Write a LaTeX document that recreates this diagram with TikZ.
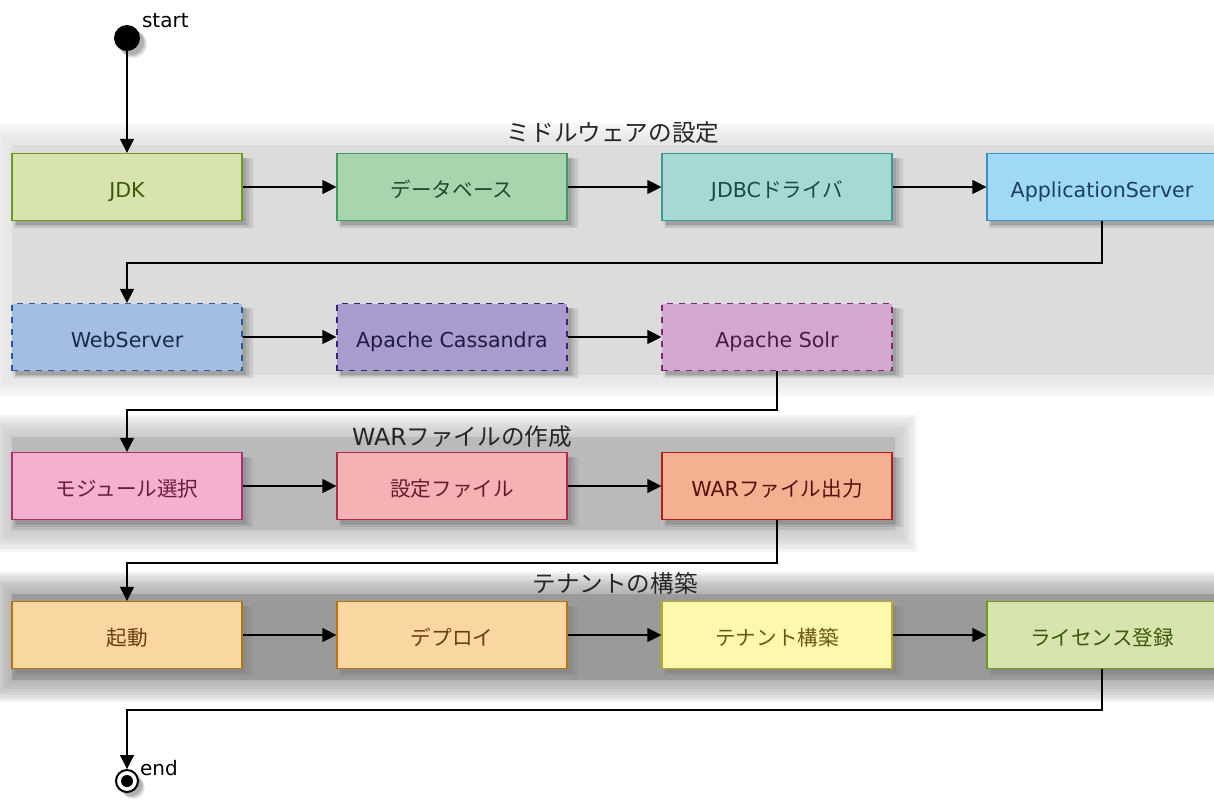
\documentclass[tikz,border=0pt]{standalone}
\usepackage{fontspec}
\setmainfont{DejaVu Sans}
\newfontfamily\jp{Noto Sans CJK JP}
\usetikzlibrary{arrows.meta}
\usetikzlibrary{shadows}
\usetikzlibrary{positioning}

\definecolor{grpA}{HTML}{DCDCDC}
\definecolor{grpB}{HTML}{BABABA}
\definecolor{grpC}{HTML}{9A9A9A}
% fill / border / text per box
\definecolor{jdkF}{HTML}{D7E4AD}  \definecolor{jdkD}{HTML}{6E9A1E}  \definecolor{jdkT}{HTML}{3A5A0A}
\definecolor{dbF}{HTML}{A9D5AE}   \definecolor{dbD}{HTML}{3F9A5B}   \definecolor{dbT}{HTML}{1E4A2A}
\definecolor{jdbcF}{HTML}{A6D9D3} \definecolor{jdbcD}{HTML}{3A9A92} \definecolor{jdbcT}{HTML}{1A4A46}
\definecolor{appF}{HTML}{A0D9F5}  \definecolor{appD}{HTML}{3A8FC2}  \definecolor{appT}{HTML}{1B3F5E}
\definecolor{webF}{HTML}{A3BDE3}  \definecolor{webD}{HTML}{2A5C9A}  \definecolor{webT}{HTML}{1A2A4E}
\definecolor{casF}{HTML}{A99BCE}  \definecolor{casD}{HTML}{2E2870}  \definecolor{casT}{HTML}{1E1A44}
\definecolor{solF}{HTML}{D3A7CF}  \definecolor{solD}{HTML}{7E2A78}  \definecolor{solT}{HTML}{4A1A46}
\definecolor{modF}{HTML}{F4B0D0}  \definecolor{modD}{HTML}{B02C6C}  \definecolor{modT}{HTML}{6A1A40}
\definecolor{cnfF}{HTML}{F4B2B4}  \definecolor{cnfD}{HTML}{B0284A}  \definecolor{cnfT}{HTML}{6A1A2A}
\definecolor{warF}{HTML}{F4B090}  \definecolor{warD}{HTML}{B01E1E}  \definecolor{warT}{HTML}{5A1010}
\definecolor{bootF}{HTML}{FAD6A1} \definecolor{bootD}{HTML}{B8720E} \definecolor{bootT}{HTML}{6A3E10}
\definecolor{tenF}{HTML}{FDF8AC}  \definecolor{tenD}{HTML}{BAA81E}  \definecolor{tenT}{HTML}{6A5A10}

\begin{document}
\begin{tikzpicture}[x=0.5pt, y=-0.5pt, >={Triangle[length=7pt,width=7pt]},
    soft shadow/.style={drop shadow={shadow xshift=3pt, shadow yshift=-3pt, opacity=.10, shadow scale=1.05},
                        drop shadow={shadow xshift=3pt, shadow yshift=-3pt, opacity=.15, shadow scale=1.03},
                        drop shadow={shadow xshift=2.5pt, shadow yshift=-2.5pt, opacity=.25, shadow scale=1.015},
                        drop shadow={shadow xshift=2pt, shadow yshift=-2pt, opacity=.35}},
    box/.style={rectangle, fill=#1F, draw=#1D, text=#1T, line width=0.6pt, minimum width=115pt,
                minimum height=33.5pt, inner sep=0pt, text height=10.5pt, text depth=0pt,
                font=\fontsize{10.3}{12}\selectfont, soft shadow},
    grptitle/.style={font=\fontsize{11.8}{14}\selectfont, text=black!85, inner sep=0pt}]
    \tikzset{flow/.style={line width=0.6pt, ->}}
    \tikzset{dot/.style={circle, fill=black, inner sep=0pt, minimum size=13pt, soft shadow}}
    \tikzset{enddot/.style={circle, draw=black, line width=1pt, fill=white, inner sep=0pt, minimum size=11pt, soft shadow}}
    \useasboundingbox (0,0) rectangle (1214,800);

    % group backgrounds, soft edges
    \foreach \xa/\ya/\xb/\yb/\c in {12/145/1240/375/grpA, 12/437/895/530/grpB, 12/594/1240/680/grpC} {
        \foreach \i in {1,...,10}
            \fill[\c, opacity=0.12] (\xa-2.2*\i,\ya-2.2*\i) rectangle (\xb+2.2*\i,\yb+2.2*\i);
        \fill[\c] (\xa,\ya) rectangle (\xb,\yb);
    }
    \node[grptitle] (tmid) at (613,133) {\jp ミドルウェアの設定};
    \node[grptitle] (twar) at (462,437) {WAR{\jp ファイルの作成}};
    \node[grptitle] (tten) at (615,583) {\jp テナントの構築};

    % start / end
    \node[dot] (start) at (127,38) {};
    \node[anchor=west, font=\fontsize{10}{12}\selectfont] (startlbl) at (135,21) {start};
    \node[enddot] (end) at (127,781) {};
    \fill (end.center) circle (6);
    \node[anchor=west, font=\fontsize{10}{12}\selectfont] (endlbl) at (133,768) {end};

    % middleware
    \node[box=jdk] (jdk) at (127,187) {JDK};
    \node[box=db] (db) at (452,187) {\jp データベース};
    \node[box=jdbc] (jdbc) at (777,187) {JDBC{\jp ドライバ}};
    \node[box=app] (appsrv) at (1102,187) {ApplicationServer};
    \node[box=web, dashed] (websrv) at (127,337) {WebServer};
    \node[box=cas, dashed] (cass) at (452,337) {Apache Cassandra};
    \node[box=sol, dashed] (solr) at (777,337) {Apache Solr};

    % war
    \node[box=mod] (module) at (127,486) {\jp モジュール選択};
    \node[box=cnf] (conf) at (452,486) {\jp 設定ファイル};
    \node[box=war] (warout) at (777,486) {WAR{\jp ファイル出力}};

    % tenant
    \node[box=boot] (boot) at (127,635) {\jp 起動};
    \node[box=boot] (deploy) at (452,635) {\jp デプロイ};
    \node[box=ten] (tenant) at (777,635) {\jp テナント構築};
    \node[box=jdk] (license) at (1102,635) {\jp ライセンス登録};

    \coordinate (bend1) at (1102,263);
    \coordinate (bend2) at (777,410);
    \coordinate (bend3) at (777,563);
    \coordinate (bend4) at (1102,710);

    \draw[flow] (start) -- (jdk);
    \draw[flow] (jdk) -- (db);
    \draw[flow] (db) -- (jdbc);
    \draw[flow] (jdbc) -- (appsrv);
    \draw[flow] (appsrv) -- (bend1) -| (websrv);
    \draw[flow] (websrv) -- (cass);
    \draw[flow] (cass) -- (solr);
    \draw[flow] (solr) -- (bend2) -| (module);
    \draw[flow] (module) -- (conf);
    \draw[flow] (conf) -- (warout);
    \draw[flow] (warout) -- (bend3) -| (boot);
    \draw[flow] (boot) -- (deploy);
    \draw[flow] (deploy) -- (tenant);
    \draw[flow] (tenant) -- (license);
    \draw[flow] (license) -- (bend4) -| (end);
\end{tikzpicture}
\end{document}
